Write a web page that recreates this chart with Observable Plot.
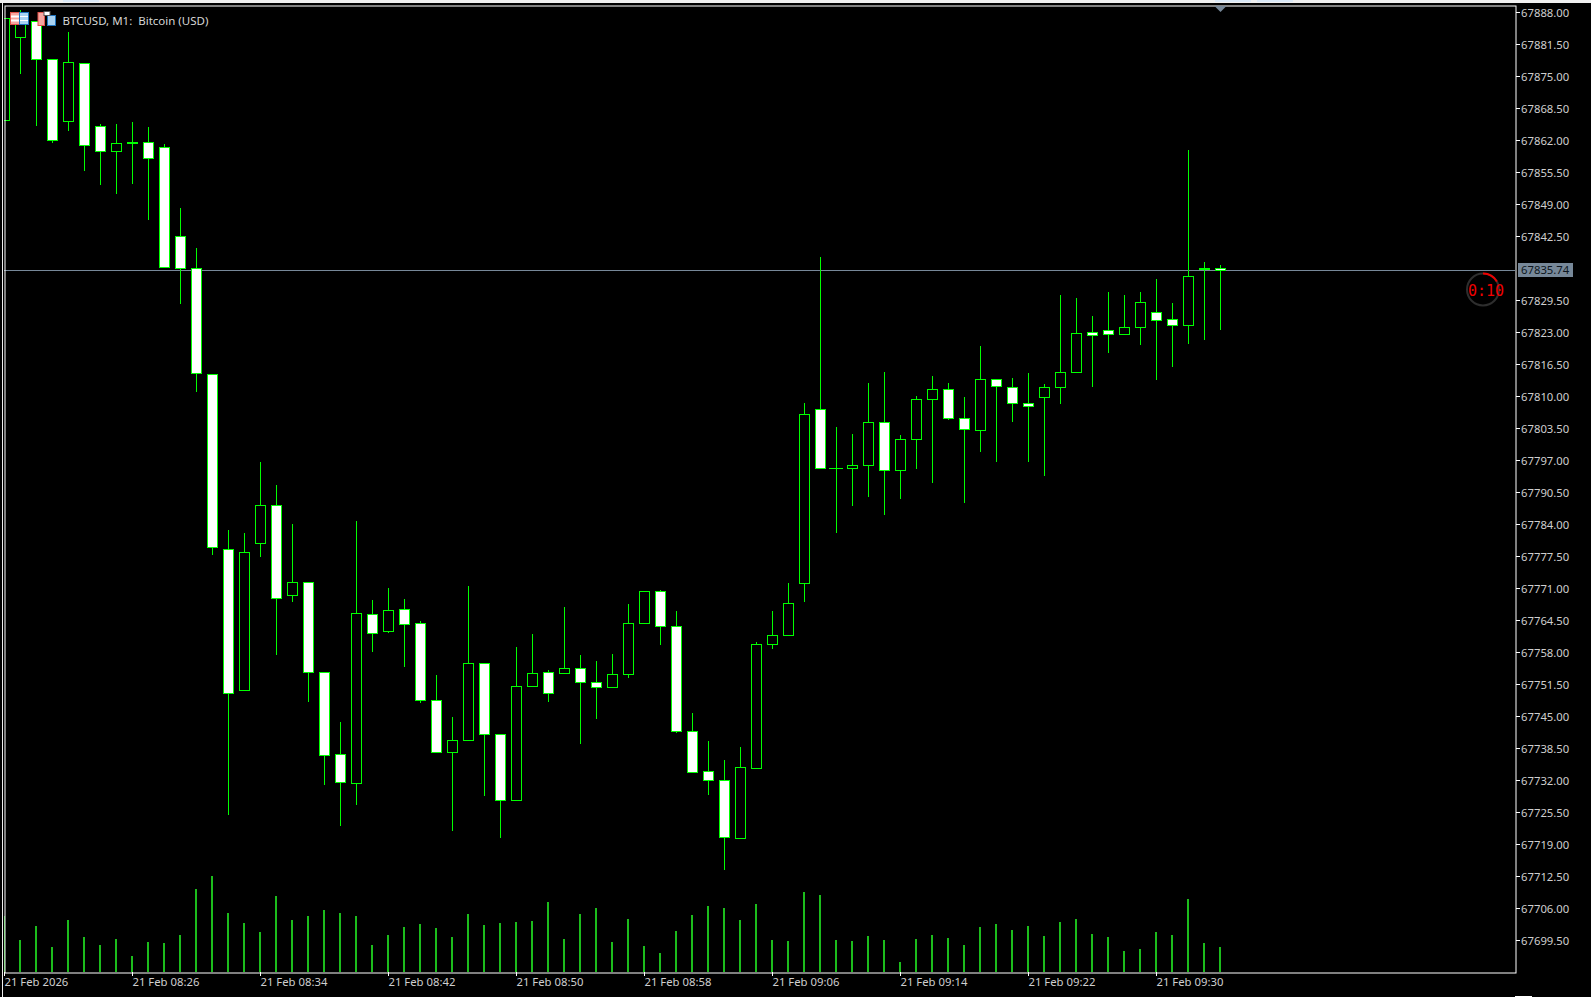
<!DOCTYPE html>
<html>
<head>
<meta charset="utf-8">
<script src="https://cdn.jsdelivr.net/npm/d3@7"></script>
<script src="https://cdn.jsdelivr.net/npm/@observablehq/plot@0.6"></script>
<style>
html,body{margin:0;padding:0;background:#000;overflow:hidden;width:1591px;height:997px}
#wrap{position:relative;width:1591px;height:997px}
#wrap svg{display:block}
.over{position:absolute;left:0;top:0;pointer-events:none}
#last{position:absolute;left:1518px;width:55px;height:14px;line-height:14px;background:#778899;color:#0d1620;font:11.3px/14px "Noto Sans",sans-serif;text-indent:3px}
</style>
</head>
<body>
<div id="wrap"></div>
<script>
const open = [67866.14,67883.00,67886.17,67878.53,67865.94,67877.72,67864.84,67859.85,67861.70,67861.59,67860.66,67842.58,67836.08,67814.55,67779.00,67750.36,67780.22,67787.94,67769.66,67772.30,67754.02,67737.36,67731.47,67765.80,67762.27,67766.81,67763.97,67748.33,67737.77,67740.12,67755.85,67741.42,67728.02,67751.17,67754.02,67753.82,67754.83,67751.99,67750.97,67753.61,67763.97,67770.47,67763.36,67742.03,67733.91,67732.08,67720.30,67734.52,67759.71,67761.53,67772.10,67807.44,67795.52,67795.46,67795.98,67804.80,67795.05,67801.35,67809.47,67811.50,67805.53,67803.17,67813.53,67811.91,67808.66,67809.88,67811.91,67814.96,67823.08,67823.49,67822.59,67824.10,67827.14,67825.72,67824.50,67836.10,67836.08];
const high = [67886.86,67888.55,67886.17,67878.53,67884.02,67877.72,67865.33,67865.33,67865.74,67864.72,67861.27,67848.27,67840.14,67814.55,67782.92,67782.31,67796.73,67792.06,67784.14,67772.30,67754.02,67743.86,67784.75,67768.70,67771.14,67768.91,67764.44,67753.47,67744.94,67771.55,67755.85,67741.42,67759.16,67761.80,67754.42,67767.28,67757.47,67756.31,67757.74,67767.89,67770.47,67770.73,67766.47,67745.75,67740.06,67736.20,67738.84,67760.17,67766.47,67772.16,67808.72,67838.32,67803.84,67802.42,67812.72,67814.96,67802.16,67810.08,67814.20,67812.72,67809.88,67820.24,67813.53,67813.74,67814.75,67812.52,67830.60,67829.99,67826.33,67831.21,67830.60,67831.21,67833.85,67828.97,67860.11,67837.30,67836.69];
const low = [67866.14,67875.41,67864.84,67861.39,67863.83,67855.70,67852.86,67851.03,67853.06,67845.75,67836.28,67828.83,67810.81,67777.70,67724.89,67750.36,67777.30,67757.53,67768.16,67747.84,67730.98,67722.66,67726.92,67758.00,67761.86,67754.95,67747.64,67737.77,67721.64,67740.12,67728.75,67720.22,67728.02,67751.17,67747.84,67753.82,67739.31,67744.39,67750.97,67752.86,67763.97,67759.42,67741.55,67733.71,67729.09,67713.86,67720.02,67734.52,67758.61,67761.53,67768.16,67795.17,67782.17,67787.66,67789.48,67785.83,67789.08,67795.17,67792.33,67805.12,67788.27,67798.62,67796.59,67804.72,67796.59,67793.75,67808.37,67814.96,67811.83,67818.73,67822.59,67820.36,67813.25,67815.89,67820.56,67821.37,67823.41];
const close = [67886.86,67886.92,67878.53,67862.08,67877.92,67861.07,67859.85,67861.47,67861.49,67858.42,67836.28,67836.08,67814.75,67779.41,67749.75,67778.39,67787.94,67769.05,67772.30,67753.94,67737.16,67731.67,67766.00,67761.86,67766.61,67763.69,67748.25,67737.77,67740.21,67755.85,67741.42,67728.02,67751.17,67753.82,67749.75,67754.83,67751.99,67750.97,67753.61,67763.97,67770.47,67763.36,67742.03,67733.71,67732.08,67720.50,67734.72,67759.71,67761.53,67768.03,67806.42,67795.46,67795.52,67796.06,67804.80,67795.05,67801.35,67809.47,67811.50,67805.53,67803.38,67813.53,67812.11,67808.66,67808.05,67811.91,67814.96,67822.88,67822.47,67822.59,67824.10,67829.17,67825.52,67824.50,67834.46,67835.84,67835.74];
const volume = [56,32,46,25,52,35,27,33,16,30,29,37,83,96,59,49,40,76,52,56,62,59,56,27,37,45,48,44,35,58,47,49,50,51,70,33,58,64,30,53,26,19,41,57,66,64,52,68,32,31,80,77,32,31,36,32,10,33,37,34,27,45,48,42,46,36,50,53,38,35,21,23,40,37,73,29,25];
const priceTicks = [67888,67881.5,67875,67868.5,67862,67855.5,67849,67842.5,67829.5,67823,67816.5,67810,67803.5,67797,67790.5,67784,67777.5,67771,67764.5,67758,67751.5,67745,67738.5,67732,67725.5,67719,67712.5,67706,67699.5];
const timeTickBars = [0,8,16,24,32,40,48,56,64,72];
const timeTickLabels = ["21 Feb 2026","21 Feb 08:26","21 Feb 08:34","21 Feb 08:42","21 Feb 08:50","21 Feb 08:58","21 Feb 09:06","21 Feb 09:14","21 Feb 09:22","21 Feb 09:30"];
const lastPrice = 67835.74;
const symbolTitle = "BTCUSD, M1:  Bitcoin (USD)";
const countdown = "0:10";

const bars = open.map((o,i)=>({i,o,h:high[i],l:low[i],c:close[i]}));
const green = "#00ff00";
// the volume pane shares the window with price: one tick of volume sits one pixel above the floor of the frame
const pricePerPixel = 6.5 / 32;
const floorPrice = 67888 - 960 * pricePerPixel;
const halfBody = 5 / 16, halfDoji = 7 / 16;

const chart = Plot.plot({
  width: 1591, height: 997,
  marginLeft: 4, marginTop: 5, marginRight: 76, marginBottom: 25,
  style: {background:"#000", fontFamily:'"Noto Sans",sans-serif'},
  x: {type:"linear", domain:[0,76], range:[4,1220], round:true},
  y: {type:"linear", domain:[67888,67699.5], range:[12.4,940.4], round:true},
  marks: [
    Plot.ruleX(volume, {x:(d,i)=>i, y1:floorPrice, y2:d=>floorPrice+d*pricePerPixel, stroke:"#1cbc1c", strokeWidth:2, dx:-0.5, clip:"frame"}),
    Plot.ruleY([lastPrice], {stroke:"#778899", strokeWidth:1, clip:"frame"}),
    Plot.ruleX(bars, {x:"i", y1:"l", y2:"h", stroke:green, strokeWidth:1, clip:"frame"}),
    Plot.rect(bars.filter(d=>d.o!==d.c), {x1:d=>d.i-halfBody, x2:d=>d.i+halfBody, y1:"o", y2:"c",
      fill:d=>d.c<d.o?"#ffffff":"#000000", stroke:green, strokeWidth:1, dx:0.5, dy:0.5, clip:"frame"}),
    Plot.ruleY(bars.filter(d=>d.o===d.c), {y:"c", x1:d=>d.i-halfDoji, x2:d=>d.i+halfDoji, stroke:green, strokeWidth:1, clip:"frame"}),
    Plot.frame({stroke:"#ffffff", strokeWidth:1, dx:0.5, dy:0.5}),
    Plot.axisY(priceTicks, {anchor:"right", tickSize:4, tickFormat:()=>"", label:null, stroke:"#ffffff"}),
    Plot.axisY(priceTicks, {anchor:"right", tickSize:0, tickPadding:5.5, dy:1, tickFormat:d=>d.toFixed(2), label:null, fill:"#cfcfcf", fontSize:11.3}),
    Plot.axisX(timeTickBars, {anchor:"bottom", tickSize:4, tickFormat:()=>"", label:null, stroke:"#ffffff"}),
    Plot.axisX(timeTickBars, {anchor:"bottom", tickSize:0, tickPadding:6, dy:-1, tickFormat:d=>timeTickLabels[timeTickBars.indexOf(d)], label:null, fill:"#cfcfcf", fontSize:11.3, textAnchor:"start"}),
    Plot.text([symbolTitle], {text:d=>d, frameAnchor:"top-left", dx:58, dy:11, fill:"#d6d6d6", fontSize:11.5, textAnchor:"start"})
  ]
});
const wrap = document.getElementById("wrap");
wrap.appendChild(chart);

const yOf = chart.scale("y").apply(lastPrice), xOf = chart.scale("x").apply(76);
const lab = document.createElement("div");
lab.id = "last"; lab.textContent = lastPrice.toFixed(2); lab.style.top = (yOf - 7) + "px";
wrap.appendChild(lab);

const cx = 1483, cy = 289.5, r = 16;
const arc = d3.arc()({innerRadius:r-1, outerRadius:r+1, startAngle:0, endAngle:Math.PI/3});
const over = document.createElement("div");
over.className = "over";
over.innerHTML = `<svg width="1591" height="997" xmlns="http://www.w3.org/2000/svg">
  <rect x="0" y="0" width="1591" height="3" fill="#f0f0f0"/>
  <rect x="2" y="3" width="1" height="994" fill="#eeeeee"/>
  <rect x="63" y="0" width="36" height="2" fill="#dbe9f7"/>
  <rect x="1215" y="0" width="36" height="2" fill="#dbe9f7"/>
  <rect x="1257" y="0" width="36" height="2" fill="#dbe9f7"/>
  <rect x="1515" y="996" width="17" height="1" fill="#ffffff"/>
  <polygon points="${xOf-5.5},6 ${xOf+6.5},6 ${xOf+0.5},12" fill="#778899"/>
  <circle cx="${cx}" cy="${cy}" r="${r}" fill="none" stroke="#2e2e2e" stroke-width="2"/>
  <path d="${arc}" transform="translate(${cx},${cy})" fill="#ee0000"/>
  <text x="${cx+3}" y="${cy+6}" text-anchor="middle" font-family="DejaVu Sans Mono, monospace" font-size="15" fill="#f00000">${countdown}</text>
  <g>
    <rect x="10.5" y="12.5" width="9" height="12" fill="#f7a6a0" stroke="#e0524a"/>
    <rect x="19.5" y="12.5" width="9" height="12" fill="#a8d2f2" stroke="#1e73bd"/>
    <path d="M11 16.5H19M11 20.5H19" stroke="#ffffff" stroke-width="2"/>
    <path d="M20 16.5H28M20 20.5H28" stroke="#ffffff" stroke-width="1"/>
    <rect x="38" y="12.5" width="6.5" height="13" fill="#f7a6a0" stroke="#e0524a"/>
    <rect x="47.5" y="15.5" width="8" height="10" fill="#a8d2f2" stroke="#1e73bd"/>
    <rect x="44" y="11.5" width="6" height="4" fill="#ffffff" stroke="#555555"/>
  </g>
</svg>`;
wrap.appendChild(over);
</script>
</body>
</html>
